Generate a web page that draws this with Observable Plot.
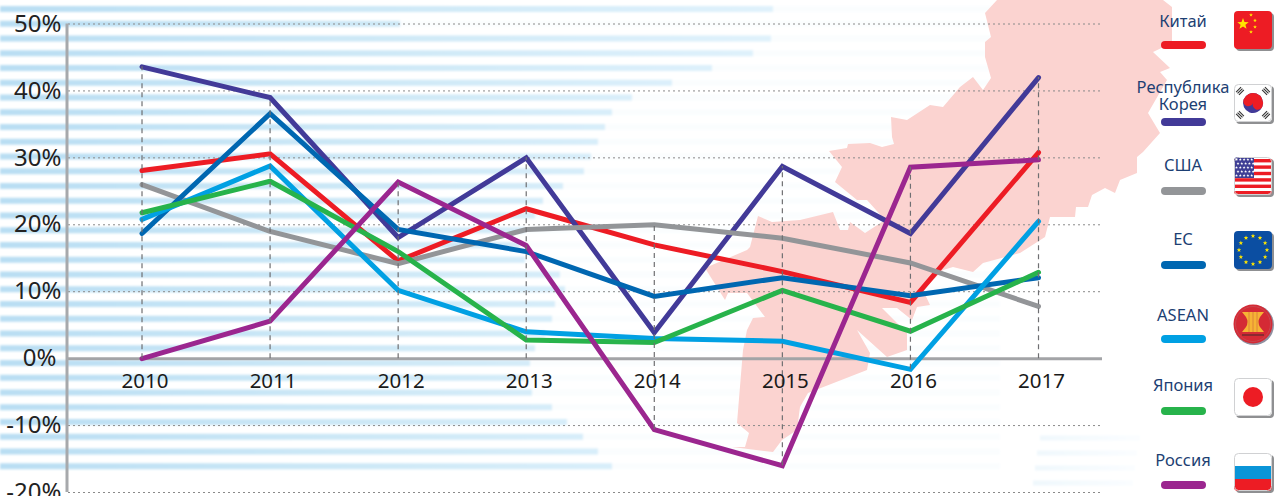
<!DOCTYPE html>
<html lang="ru">
<head>
<meta charset="utf-8">
<script src="https://cdn.jsdelivr.net/npm/d3@7"></script>
<script src="https://cdn.jsdelivr.net/npm/@observablehq/plot@0.6"></script>
<style>
html,body{margin:0;padding:0;background:#fff;overflow:hidden}
#stage{position:relative;width:1286px;height:496px;overflow:hidden;background:#fff}
#stage>svg{position:absolute;left:0;top:0;background:transparent}
.lg{position:absolute;transform:translate(-50%,-50%);text-align:center;color:#1d3f73;font:16.5px/17px "Noto Sans",sans-serif;white-space:nowrap}
.sw{position:absolute;left:1161px;width:45px;height:8px;border-radius:4px}
</style>
</head>
<body>
<div id="stage"></div>
<script>
// ---- chart data ----
const years = [2010, 2011, 2012, 2013, 2014, 2015, 2016, 2017];
const china  = [28.1, 30.6, 14.6, 22.4, 17.0, 13.0, 8.4, 30.8];
const korea  = [43.6, 39.0, 18.1, 30.0, 3.9, 28.7, 18.7, 42.0];
const usa    = [26.0, 19.0, 14.2, 19.3, 20.0, 18.0, 14.3, 7.8];
const eu     = [18.7, 36.6, 19.3, 16.0, 9.3, 12.1, 9.4, 12.1];
const asean  = [20.8, 28.8, 10.2, 4.0, 3.0, 2.6, -1.6, 20.5];
const japan  = [21.8, 26.5, 16.0, 2.8, 2.4, 10.2, 4.1, 12.9];
const russia = [0.0, 5.6, 26.4, 16.9, -10.6, -16.0, 28.6, 29.7];
const yTicks = [-20, -10, 0, 10, 20, 30, 40, 50];
const seriesNames = ["Китай", "Республика Корея", "США", "ЕС", "ASEAN", "Япония", "Россия"];
const seriesValues = [china, korea, usa, eu, asean, japan, russia];
const seriesColors = ["#ed1c24", "#423a98", "#939598", "#0067b1", "#00a0e3", "#27b34b", "#9b268f"];

const rows = seriesNames.flatMap((name, i) =>
  years.map((year, j) => ({name, year, value: seriesValues[i][j]})));
const spans = years.map((year, j) => {
  const vals = seriesValues.map(s => s[j]);
  return {year, lo: Math.min(0, ...vals), hi: Math.max(...vals)};
});

// ---- decorative backdrop (not data) ----
const stage = document.getElementById("stage");
const NS = "http://www.w3.org/2000/svg";
const stripeEnds = [773,400,771,753,712,672,632,612,605,598,591,584,563,543,535,525,520,525,560,565,555,552,545,535,530,525,532,552,567,583,598,612];
const farStripes = [[438,1040],[453,1037],[468,1035],[483,1033]];
const mapNorth = "997,0 985,13 991,37 985,42 985,57 991,78 983,90 973,77 960,87 943,107 930,105 907,120 891,117 892,137 894,144 882,147 870,143 848,144 847,148 829,151 842,167 835,182 857,200 867,200 885,220 865,233 850,222 848,230 840,230 833,212 800,220 772,222 758,216 750,247 747,250 705,268 725,300 728,293 747,293 765,317 753,318 747,330 743,350 737,423 749,433 745,447 732,447 773,452 782,440 797,430 800,407 808,393 867,370 870,353 857,330 887,357 907,350 907,333 882,308 897,308 912,320 917,307 930,305 923,290 943,270 953,267 973,272 983,263 1020,253 1045,237 1050,217 1075,217 1076,207 1088,207 1092,195 1105,188 1115,193 1120,180 1137,173 1137,157 1143,152 1160,133 1148,113 1167,80 1160,72 1170,68 1153,52 1172,43 1172,7 1163,0";
let bg = `<svg xmlns="${NS}" width="1286" height="496">
<defs>
<linearGradient id="st" gradientUnits="userSpaceOnUse" x1="0" x2="780" y1="0" y2="0"><stop offset="0" stop-color="#b9def3"/><stop offset="0.4" stop-color="#cbe7f6"/><stop offset="1" stop-color="#e0f2fc"/></linearGradient>
<linearGradient id="far" gradientUnits="userSpaceOnUse" x1="1030" x2="1135" y1="0" y2="0"><stop offset="0" stop-color="#eef7fc"/><stop offset="1" stop-color="#fafdff"/></linearGradient>
<filter id="soft"><feGaussianBlur stdDeviation="1"/></filter>
</defs><g filter="url(#soft)">`;
stripeEnds.forEach((end, k) => {
  const y = 9 + 14.75 * k;
  bg += `<rect x="0" y="${y - 3}" width="1000" height="6" fill="#fafdfe"/>`;
  bg += `<rect x="0" y="${y - 3}" width="${end}" height="6" fill="url(#st)"/>`;
});
farStripes.forEach(([y, x]) => { bg += `<rect x="${x}" y="${y - 2.5}" width="100" height="5" fill="url(#far)"/>`; });
bg += `</g><polygon points="${mapNorth}" fill="#fbd3d0"/></svg>`;
stage.insertAdjacentHTML("beforeend", bg);

// ---- chart ----
const tickLabel = {x: () => 2009.426, y: d => d, dy: 0, text: d => d + "%", textAnchor: "end", fontSize: 24, fontFamily: "Noto Sans", fill: "#222"};
const chart = Plot.plot({
  width: 1286, height: 496,
  marginLeft: 68, marginRight: 184, marginTop: 23.5, marginBottom: 4,
  style: {background: "transparent", overflow: "visible"},
  x: {domain: [2009.426, 2017.4997], axis: null},
  y: {domain: [-20, 50], axis: null},
  marks: [
    Plot.gridY(yTicks, {stroke: "#8a8a8a", strokeOpacity: 1, strokeWidth: 1, strokeDasharray: "2 3"}),
    Plot.ruleY([0], {stroke: "#a3a4a7", strokeWidth: 3}),
    Plot.ruleX([2009.426], {dx: -1.5, stroke: "#a7a9ac", strokeWidth: 3}),
    Plot.line(rows, {
      x: "year", y: "value", z: "name",
      stroke: d => seriesColors[seriesNames.indexOf(d.name)],
      strokeWidth: 5, strokeLinejoin: "miter", strokeMiterlimit: 10, strokeLinecap: "round", curve: "linear"
    }),
    Plot.ruleX(spans, {x: "year", y1: "lo", y2: "hi", stroke: "#6f6f72", strokeWidth: 1.2, strokeDasharray: "5 4"}),
    Plot.text(years, {x: d => d, y: () => 0, dx: 3, dy: 23, text: d => String(d), fontSize: 20.5, fontFamily: "Noto Sans", fill: "#1a1a1a"}),
    Plot.text(yTicks.filter(d => d !== 0), {...tickLabel, dx: -7}),
    Plot.text([0], {...tickLabel, dx: -12})
  ]
});
stage.appendChild(chart);

// ---- legend ----
const legendY = [20, 94.5, 164, 238, 314, 384, 459];
const swatchY = [41, 118, 187, 261, 335, 407, 481];
const labelLines = [["Китай"],["Республика","Корея"],["США"],["ЕС"],["ASEAN"],["Япония"],["Россия"]];
labelLines.forEach((lines, i) => {
  const d = document.createElement("div");
  d.className = "lg";
  lines.forEach((t, k) => {
    if (k) d.appendChild(document.createElement("br"));
    d.appendChild(document.createTextNode(t));
  });
  d.style.left = "1183px"; d.style.top = legendY[i] + "px";
  stage.appendChild(d);
  const s = document.createElement("div");
  s.className = "sw"; s.style.top = swatchY[i] + "px"; s.style.background = seriesColors[i];
  stage.appendChild(s);
});

// ---- flags (decorative icons) ----
function star(cx, cy, r, fill) {
  const p = d3.range(10).map(i => {
    const a = -Math.PI / 2 + i * Math.PI / 5, R = i % 2 ? r * 0.42 : r;
    return `${(cx + R * Math.cos(a)).toFixed(2)},${(cy + R * Math.sin(a)).toFixed(2)}`;
  }).join(" ");
  return `<polygon points="${p}" fill="${fill}"/>`;
}
function box(x, y, inner, id, border) {
  return `<rect x="${x + 2}" y="${y + 2}" width="38" height="38" rx="4" fill="#8f9092"/>
  <clipPath id="${id}"><rect x="${x}" y="${y}" width="38" height="38" rx="4"/></clipPath>
  <g clip-path="url(#${id})"><g transform="translate(${x},${y})">${inner}</g></g>
  ${border ? `<rect x="${x + .5}" y="${y + .5}" width="37" height="37" rx="4" fill="none" stroke="#d0d1d3"/>` : ""}`;
}
let cn = `<rect width="38" height="38" fill="#ed1c24"/>` + star(9, 13, 6, "#ffe600") + star(17, 4, 2, "#ffe600") + star(21, 9.5, 2, "#ffe600") + star(21, 16, 2, "#ffe600") + star(17, 21, 2, "#ffe600");
function tri(x, y, rot) { return `<g transform="translate(${x},${y}) rotate(${rot})" stroke="#333" stroke-width="1.1"><path d="M-3.5 -2H3.5M-3.5 0H3.5M-3.5 2H3.5"/></g>`; }
let kr = `<rect width="38" height="38" fill="#fff"/>` + tri(6, 7, -45) + tri(32, 7, 45) + tri(6, 31, 45) + tri(32, 31, -45)
  + `<g transform="rotate(20 19 19)"><circle cx="19" cy="19" r="10" fill="#423a98"/><path d="M9 19A10 10 0 0 1 29 19A5 5 0 0 1 19 19A5 5 0 0 1 9 19Z" fill="#ed1c24"/></g>`;
let us = `<rect width="38" height="38" fill="#fff"/>`;
for (let k = 0; k < 6; k++) us += `<rect y="${k * 6.4 + 2}" width="38" height="3.4" fill="#ed1c24"/>`;
us += `<rect width="20" height="21" fill="#3f3f95"/>`;
for (let r = 0; r < 5; r++) for (let c = 0; c < 5; c++) us += star(2.5 + c * 3.8 + (r % 2) * 1.5, 2.5 + r * 4, 1.5, "#fff");
let eur = `<rect width="38" height="38" fill="#0b4ea2"/>`;
for (let k = 0; k < 12; k++) { const a = k * Math.PI / 6; eur += star(19 + 14 * Math.sin(a), 19 - 14 * Math.cos(a), 2.4, "#ffe600"); }
let jp = `<rect width="38" height="38" fill="#fff"/><circle cx="19" cy="19" r="10" fill="#ed1c24"/>`;
let ru = `<rect width="38" height="13" fill="#fff"/><rect y="13" width="38" height="13" fill="#0a95d8"/><rect y="26" width="38" height="12" fill="#ed1c24"/>`;
let asn = `<circle cx="1254" cy="325" r="20" fill="#8f90a0"/><circle cx="1253" cy="324" r="19.5" fill="#d42a35"/><circle cx="1253" cy="324" r="17.5" fill="none" stroke="#c9464f" stroke-width="1"/>
<path d="M1242 312H1264L1260 317Q1257 322 1260 327L1264 332H1242L1246 327Q1249 322 1246 317Z" fill="#f6b335"/>
<path d="M1249 312V332M1253 312V332M1257 312V332" stroke="#d9793a" stroke-width="0.8"/><path d="M1242 335H1264" stroke="#8a2a30" stroke-width="2"/>`;
stage.insertAdjacentHTML("beforeend", `<svg xmlns="${NS}" width="1286" height="496">` +
  box(1234, 11, cn, "f0", false) + box(1234, 84, kr, "f1", true) + box(1234, 157, us, "f2", true) +
  box(1234, 231, eur, "f3", false) + asn + box(1234, 378, jp, "f5", true) + box(1234, 453, ru, "f6", true) + `</svg>`);
</script>
</body>
</html>
